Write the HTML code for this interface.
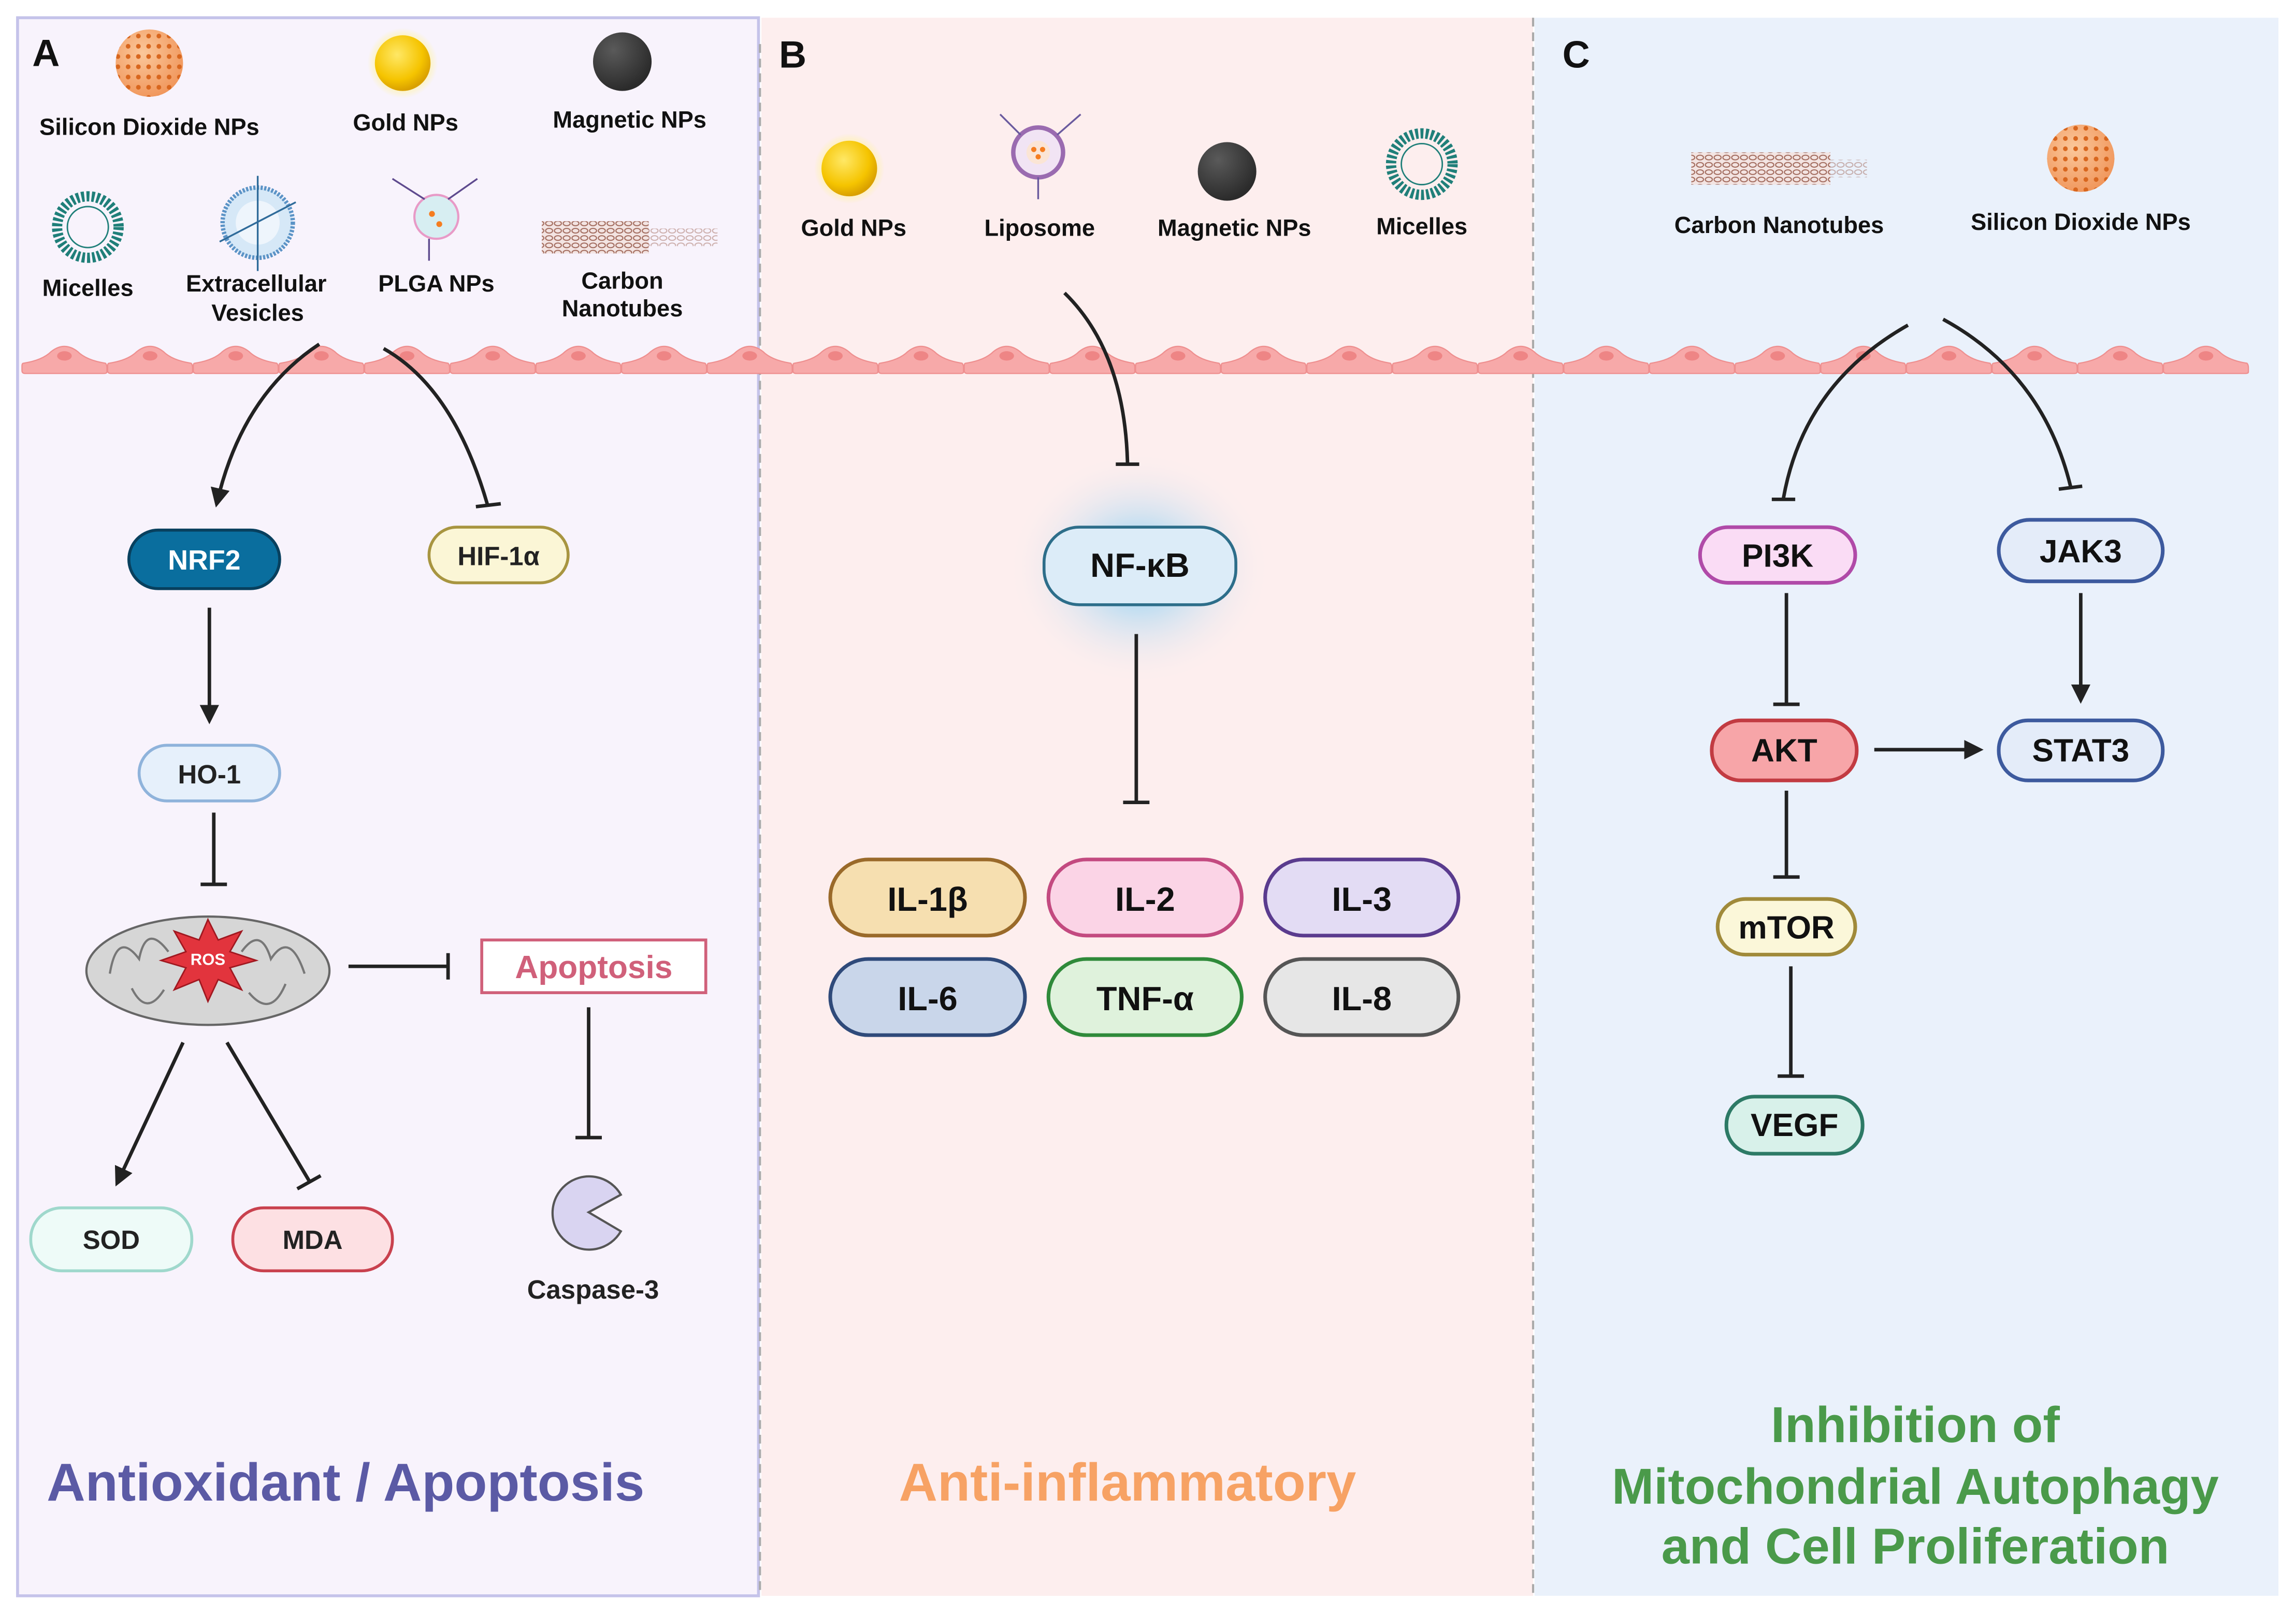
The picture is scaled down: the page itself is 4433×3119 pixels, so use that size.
<!DOCTYPE html>
<html><head><meta charset="utf-8"><style>
html,body{margin:0;padding:0;background:#fff;}
svg{display:block;}
text{font-family:"Liberation Sans",Arial,sans-serif;font-weight:bold;}
</style></head><body>
<svg width="4433" height="3119" viewBox="0 0 1568 1103" xmlns="http://www.w3.org/2000/svg">
<defs>
<radialGradient id="gold" cx="40%" cy="35%" r="65%"><stop offset="0" stop-color="#ffe866"/><stop offset="0.7" stop-color="#f5c400"/><stop offset="1" stop-color="#d9a000"/></radialGradient>
<radialGradient id="goldglow"><stop offset="0.6" stop-color="#fff3a0"/><stop offset="1" stop-color="#fff3a0" stop-opacity="0"/></radialGradient>
<radialGradient id="mag" cx="35%" cy="30%" r="70%"><stop offset="0" stop-color="#5a5a5a"/><stop offset="1" stop-color="#2b2b2b"/></radialGradient>
<radialGradient id="sio" cx="40%" cy="35%" r="70%"><stop offset="0" stop-color="#fbc79a"/><stop offset="1" stop-color="#f0955a"/></radialGradient>
<radialGradient id="nfglow"><stop offset="0.3" stop-color="#b9dcf2"/><stop offset="1" stop-color="#fdeeee" stop-opacity="0"/></radialGradient>
<pattern id="dots" width="7" height="7" patternUnits="userSpaceOnUse"><circle cx="3.5" cy="3.5" r="1.6" fill="#d8661e"/></pattern>
<pattern id="tube" width="6" height="5" patternUnits="userSpaceOnUse"><ellipse cx="3" cy="2.5" rx="2.4" ry="1.6" fill="none" stroke="#a0685a" stroke-width="0.7"/></pattern>
<marker id="arr" viewBox="0 0 10 10" refX="8" refY="5" markerWidth="5.5" markerHeight="5.5" orient="auto"><path d="M0,0 L10,5 L0,10 z" fill="#222"/></marker>
<g id="cell"><path d="M1,12 Q14,10 20,4 Q29,-3 38,4 Q44,10 57,12 Q58,13 58,15 L58,18 Q58,19 56,19 L2,19 Q0,19 0,17 L0,14 Q0,12 1,12 z" fill="#f7a9a9" stroke="#ee8f8f" stroke-width="0.8"/><ellipse cx="29" cy="7" rx="5" ry="3.2" fill="#ee8585"/></g>
<g id="mic"><circle r="21" fill="none" stroke="#1f7f79" stroke-width="7" stroke-dasharray="2 1.5"/><circle r="14" fill="none" stroke="#1f7f79" stroke-width="1"/></g>
</defs>

<rect x="12" y="12" width="506" height="1078" fill="#f8f3fc" stroke="#c5c3ea" stroke-width="2"/>
<rect x="520" y="12" width="527" height="1078" fill="#fdeeee"/>
<rect x="1048" y="12" width="508" height="1078" fill="#eaf1fb"/>
<line x1="519" y1="30" x2="519" y2="1090" stroke="#aaa" stroke-width="1.5" stroke-dasharray="6 4"/>
<line x1="1047" y1="12" x2="1047" y2="1090" stroke="#aaa" stroke-width="1.5" stroke-dasharray="6 4"/>

<text x="22" y="45" font-size="26" fill="#111">A</text>
<text x="532" y="46" font-size="26" fill="#111">B</text>
<text x="1067" y="46" font-size="26" fill="#111">C</text>

<circle cx="102" cy="43" r="23" fill="url(#sio)"/><circle cx="102" cy="43" r="23" fill="url(#dots)"/>
<text x="102" y="92" font-size="16" text-anchor="middle" fill="#111">Silicon Dioxide  NPs</text>
<circle cx="275" cy="43" r="24" fill="url(#goldglow)"/><circle cx="275" cy="43" r="19" fill="url(#gold)"/>
<text x="277" y="89" font-size="16" text-anchor="middle" fill="#111">Gold NPs</text>
<circle cx="425" cy="42" r="20" fill="url(#mag)"/>
<text x="430" y="87" font-size="16" text-anchor="middle" fill="#111">Magnetic NPs</text>
<use href="#mic" x="60" y="155"/>
<text x="60" y="202" font-size="16" text-anchor="middle" fill="#111">Micelles</text>
<circle cx="176" cy="152" r="24" fill="#d6e8f7" stroke="#5b93c6" stroke-width="3" stroke-dasharray="1.5 1"/><circle cx="176" cy="152" r="15" fill="#eef5fc"/>
<line x1="176" y1="120" x2="176" y2="185" stroke="#2f6b9a" stroke-width="1.2"/><line x1="150" y1="165" x2="202" y2="138" stroke="#2f6b9a" stroke-width="1.2"/>
<text x="175" y="199" font-size="16" text-anchor="middle" fill="#111">Extracellular</text>
<text x="176" y="219" font-size="16" text-anchor="middle" fill="#111">Vesicles</text>
<circle cx="298" cy="148" r="15" fill="#d7eef2" stroke="#e89ac7" stroke-width="1.5"/>
<circle cx="295" cy="146" r="2" fill="#f57d20"/><circle cx="300" cy="153" r="2" fill="#f57d20"/>
<path d="M268,122 L290,136 M326,122 L306,136 M293,163 L293,178" stroke="#5e4a8e" stroke-width="1.2" fill="none"/>
<text x="298" y="199" font-size="16" text-anchor="middle" fill="#111">PLGA NPs</text>
<rect x="370" y="151" width="73" height="22" fill="#f3e4e2"/><rect x="370" y="151" width="73" height="22" fill="url(#tube)"/>
<rect x="443" y="156" width="47" height="12" fill="url(#tube)" opacity="0.5"/>
<text x="425" y="197" font-size="16" text-anchor="middle" fill="#111">Carbon</text>
<text x="425" y="216" font-size="16" text-anchor="middle" fill="#111">Nanotubes</text>

<circle cx="580" cy="115" r="24" fill="url(#goldglow)"/><circle cx="580" cy="115" r="19" fill="url(#gold)"/>
<text x="583" y="161" font-size="16" text-anchor="middle" fill="#111">Gold NPs</text>
<circle cx="709" cy="104" r="17" fill="#f1e4f4" stroke="#9a6bb0" stroke-width="3"/><circle cx="709" cy="104" r="8" fill="#fbe5d5"/>
<circle cx="706" cy="102" r="1.8" fill="#f57d20"/><circle cx="712" cy="102" r="1.8" fill="#f57d20"/><circle cx="709" cy="107" r="1.8" fill="#f57d20"/>
<path d="M683,78 L697,92 M738,78 L722,92 M709,121 L709,136" stroke="#6a5a9e" stroke-width="1.2"/>
<text x="710" y="161" font-size="16" text-anchor="middle" fill="#111">Liposome</text>
<circle cx="838" cy="117" r="20" fill="url(#mag)"/>
<text x="843" y="161" font-size="16" text-anchor="middle" fill="#111">Magnetic NPs</text>
<use href="#mic" x="971" y="112"/>
<text x="971" y="160" font-size="16" text-anchor="middle" fill="#111">Micelles</text>

<rect x="1155" y="104" width="95" height="22" fill="#f3e4e2"/><rect x="1155" y="104" width="95" height="22" fill="url(#tube)"/>
<rect x="1250" y="109" width="25" height="12" fill="url(#tube)" opacity="0.5"/>
<text x="1215" y="159" font-size="16" text-anchor="middle" fill="#111">Carbon Nanotubes</text>
<circle cx="1421" cy="108" r="23" fill="url(#sio)"/><circle cx="1421" cy="108" r="23" fill="url(#dots)"/>
<text x="1421" y="157" font-size="16" text-anchor="middle" fill="#111">Silicon Dioxide  NPs</text>

<g transform="translate(15,236)">
<use href="#cell" x="0"/><use href="#cell" x="58.5"/><use href="#cell" x="117"/><use href="#cell" x="175.5"/><use href="#cell" x="234"/><use href="#cell" x="292.5"/><use href="#cell" x="351"/><use href="#cell" x="409.5"/><use href="#cell" x="468"/><use href="#cell" x="526.5"/><use href="#cell" x="585"/><use href="#cell" x="643.5"/><use href="#cell" x="702"/><use href="#cell" x="760.5"/><use href="#cell" x="819"/><use href="#cell" x="877.5"/><use href="#cell" x="936"/><use href="#cell" x="994.5"/><use href="#cell" x="1053"/><use href="#cell" x="1111.5"/><use href="#cell" x="1170"/><use href="#cell" x="1228.5"/><use href="#cell" x="1287"/><use href="#cell" x="1345.5"/><use href="#cell" x="1404"/><use href="#cell" x="1462.5"/>
</g>

<g stroke="#222" stroke-width="2.4" fill="none">
<path d="M218,235 Q165,270 148,344" marker-end="url(#arr)"/>
<path d="M262,238 Q310,265 333,345"/><line x1="325" y1="346" x2="342" y2="344"/>
<line x1="143" y1="415" x2="143" y2="492" marker-end="url(#arr)"/>
<line x1="146" y1="555" x2="146" y2="603"/><line x1="137" y1="604" x2="155" y2="604"/>
<line x1="238" y1="660" x2="305" y2="660"/><line x1="306" y1="651" x2="306" y2="669"/>
<line x1="402" y1="688" x2="402" y2="776"/><line x1="393" y1="777" x2="411" y2="777"/>
<line x1="125" y1="712" x2="80" y2="808" marker-end="url(#arr)"/>
<line x1="155" y1="712" x2="212" y2="808"/><line x1="203" y1="812" x2="219" y2="803"/>
</g>
<rect x="88" y="362" width="103" height="40" rx="20" fill="#0a6e9e" stroke="#08405e" stroke-width="2"/>
<text x="139.5" y="389" font-size="19" text-anchor="middle" fill="#fff">NRF2</text>
<rect x="293" y="360" width="95" height="38" rx="19" fill="#fbf6d6" stroke="#a89540" stroke-width="2"/>
<text x="340.5" y="386" font-size="18" text-anchor="middle" fill="#222">HIF-1α</text>
<rect x="95" y="509" width="96" height="38" rx="19" fill="#e6f0fb" stroke="#8fb3db" stroke-width="2"/>
<text x="143" y="535" font-size="18" text-anchor="middle" fill="#222">HO-1</text>
<ellipse cx="142" cy="663" rx="83" ry="37" fill="#d6d6d6" stroke="#666" stroke-width="1.5"/>
<path d="M75,665 Q80,635 95,655 Q100,630 115,650 M165,650 Q178,632 185,655 Q198,635 208,665 M90,675 Q100,695 112,676 M170,678 Q185,696 195,672" stroke="#777" stroke-width="1.5" fill="none"/>
<polygon points="142,628 149,642 165,636 157,650 175,656 157,661 165,676 149,669 142,684 136,669 119,676 127,661 110,656 127,650 119,636 136,642" fill="#e2343d" stroke="#a01820" stroke-width="1"/>
<text x="142" y="659" font-size="11" text-anchor="middle" fill="#fff">ROS</text>
<rect x="329" y="642" width="153" height="36" fill="#fff" stroke="#d0607a" stroke-width="2"/>
<text x="405.5" y="668" font-size="22" text-anchor="middle" fill="#d0607a">Apoptosis</text>
<path d="M402,828 L424,816 A25,25 0 1 0 424,841 Z" fill="#d9d4f1" stroke="#555" stroke-width="1.5"/>
<text x="405" y="887" font-size="18" text-anchor="middle" fill="#222">Caspase-3</text>
<rect x="21" y="825" width="110" height="43" rx="21" fill="#eefbf8" stroke="#9fd8cc" stroke-width="2"/>
<text x="76" y="853" font-size="18" text-anchor="middle" fill="#222">SOD</text>
<rect x="159" y="825" width="109" height="43" rx="21" fill="#fde0e3" stroke="#c9414e" stroke-width="2"/>
<text x="213.5" y="853" font-size="18" text-anchor="middle" fill="#222">MDA</text>
<text x="236" y="1025" font-size="36.5" text-anchor="middle" fill="#5b5aa5">Antioxidant / Apoptosis</text>

<ellipse cx="778" cy="388" rx="90" ry="80" fill="url(#nfglow)"/>
<g stroke="#222" stroke-width="2.4" fill="none">
<path d="M727,200 Q768,240 770,316"/><line x1="762" y1="317" x2="778" y2="317"/>
<line x1="776" y1="433" x2="776" y2="547"/><line x1="767" y1="548" x2="785" y2="548"/>
</g>
<rect x="713" y="360" width="131" height="53" rx="24" fill="#dcecf8" stroke="#2d6e8a" stroke-width="2"/>
<text x="778.5" y="394" font-size="23" text-anchor="middle" fill="#111">NF-κB</text>
<g font-size="23" text-anchor="middle" fill="#111" stroke-width="2.5">
<rect x="567" y="587" width="133" height="52" rx="26" fill="#f6dfb0" stroke="#9a6a2a"/><text x="633.5" y="622" stroke="none">IL-1β</text>
<rect x="716" y="587" width="132" height="52" rx="26" fill="#fbd4e6" stroke="#c34a80"/><text x="782" y="622" stroke="none">IL-2</text>
<rect x="864" y="587" width="132" height="52" rx="26" fill="#e3dcf4" stroke="#5a3b8e"/><text x="930" y="622" stroke="none">IL-3</text>
<rect x="567" y="655" width="133" height="52" rx="26" fill="#c9d6ea" stroke="#2f4a7a"/><text x="633.5" y="690" stroke="none">IL-6</text>
<rect x="716" y="655" width="132" height="52" rx="26" fill="#dff2dc" stroke="#2f8a3a"/><text x="782" y="690" stroke="none">TNF-α</text>
<rect x="864" y="655" width="132" height="52" rx="26" fill="#e6e6e6" stroke="#555"/><text x="930" y="690" stroke="none">IL-8</text>
</g>
<text x="770" y="1025" font-size="36.5" text-anchor="middle" fill="#f7a264">Anti-inflammatory</text>

<g stroke="#222" stroke-width="2.4" fill="none">
<path d="M1303,222 Q1232,262 1218,340"/><line x1="1210" y1="341" x2="1226" y2="341"/>
<path d="M1327,218 Q1395,255 1414,332"/><line x1="1406" y1="334" x2="1422" y2="332"/>
<line x1="1220" y1="405" x2="1220" y2="480"/><line x1="1211" y1="481" x2="1229" y2="481"/>
<line x1="1421" y1="405" x2="1421" y2="478" marker-end="url(#arr)"/>
<line x1="1280" y1="512" x2="1352" y2="512" marker-end="url(#arr)"/>
<line x1="1220" y1="540" x2="1220" y2="598"/><line x1="1211" y1="599" x2="1229" y2="599"/>
<line x1="1223" y1="660" x2="1223" y2="734"/><line x1="1214" y1="735" x2="1232" y2="735"/>
</g>
<g font-size="22" text-anchor="middle" fill="#111" stroke-width="2.5">
<rect x="1161" y="360" width="106" height="38" rx="19" fill="#fadcf5" stroke="#b04aa8"/><text x="1214" y="387" stroke="none">PI3K</text>
<rect x="1365" y="355" width="112" height="42" rx="21" fill="#e4ecf9" stroke="#3d5a9e"/><text x="1421" y="384" stroke="none">JAK3</text>
<rect x="1169" y="492" width="99" height="41" rx="20" fill="#f7a5a8" stroke="#c23b42"/><text x="1218.5" y="520" stroke="none">AKT</text>
<rect x="1365" y="492" width="112" height="41" rx="20" fill="#e4ecf9" stroke="#3d5a9e"/><text x="1421" y="520" stroke="none">STAT3</text>
<rect x="1173" y="614" width="94" height="38" rx="19" fill="#fbf7d9" stroke="#a08a3a"/><text x="1220" y="641" stroke="none">mTOR</text>
<rect x="1179" y="749" width="93" height="39" rx="19" fill="#d8f1ea" stroke="#2d7a66"/><text x="1225.5" y="776" stroke="none">VEGF</text>
</g>
<g font-size="34.5" text-anchor="middle" fill="#4a9a4a">
<text x="1308" y="985">Inhibition of</text>
<text x="1308" y="1027">Mitochondrial Autophagy</text>
<text x="1308" y="1068">and Cell Proliferation</text>
</g>
</svg>
</body></html>
